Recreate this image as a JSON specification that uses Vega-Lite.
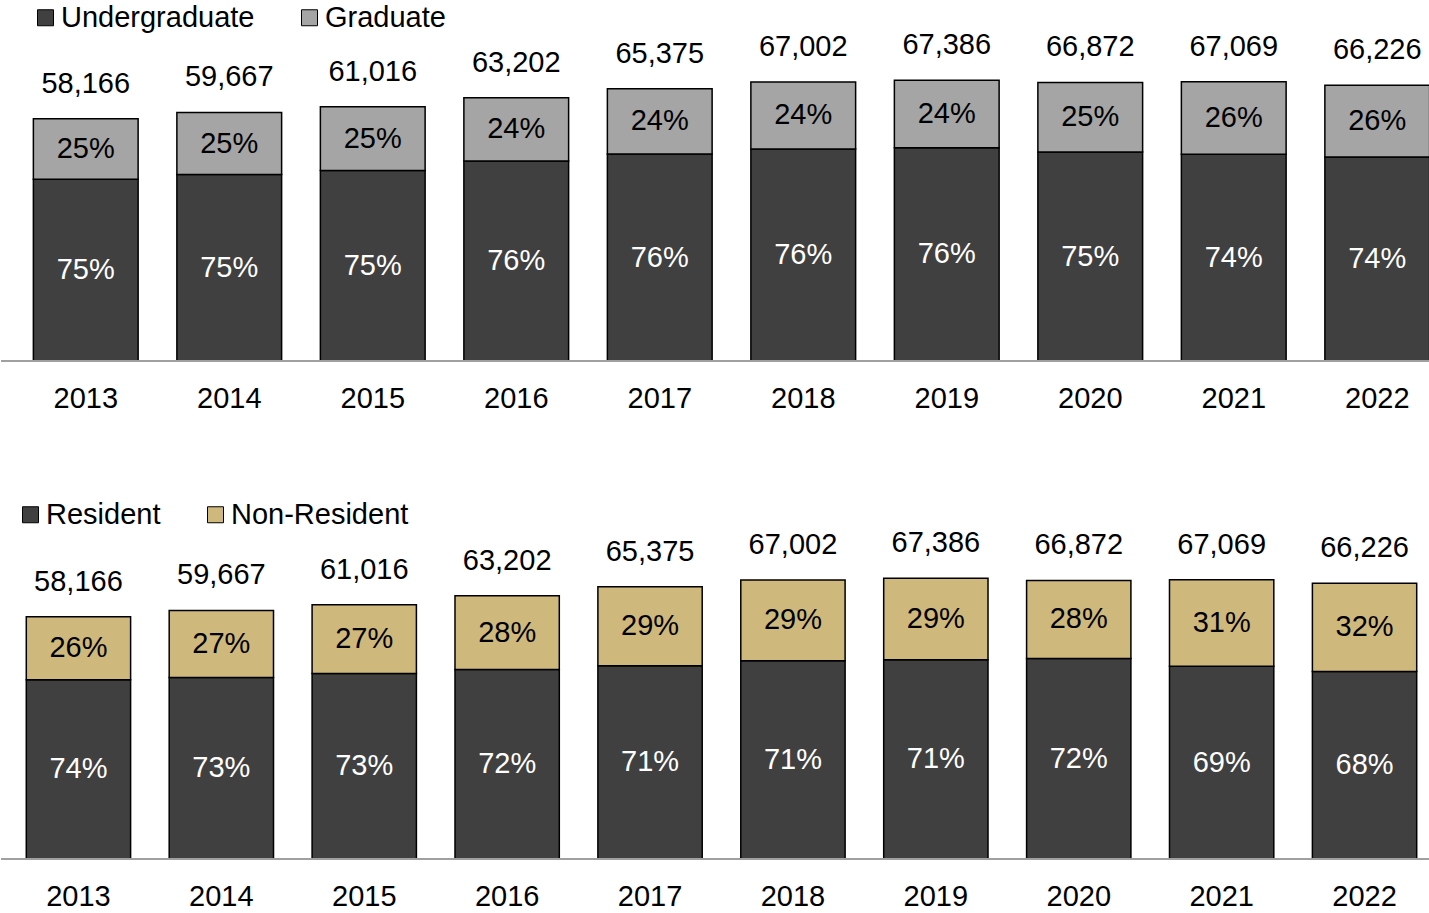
{
  "$schema": "https://vega.github.io/schema/vega-lite/v6.json",
  "padding": 0,
  "bounds": "flush",
  "spacing": 139,
  "background": "white",
  "config": {
    "view": {"stroke": null},
    "font": "Liberation Sans",
    "text": {"font": "Liberation Sans"}
  },
  "resolve": {"scale": {"color": "independent", "x": "independent", "y": "independent"}, "legend": {"color": "independent"}},
  "datasets": {
    "enroll": [
      {"year": "2013", "group": "Undergraduate", "count": 43624, "pct": "75%"},
      {"year": "2013", "group": "Graduate", "count": 14542, "pct": "25%"},
      {"year": "2014", "group": "Undergraduate", "count": 44750, "pct": "75%"},
      {"year": "2014", "group": "Graduate", "count": 14917, "pct": "25%"},
      {"year": "2015", "group": "Undergraduate", "count": 45762, "pct": "75%"},
      {"year": "2015", "group": "Graduate", "count": 15254, "pct": "25%"},
      {"year": "2016", "group": "Undergraduate", "count": 48034, "pct": "76%"},
      {"year": "2016", "group": "Graduate", "count": 15168, "pct": "24%"},
      {"year": "2017", "group": "Undergraduate", "count": 49685, "pct": "76%"},
      {"year": "2017", "group": "Graduate", "count": 15690, "pct": "24%"},
      {"year": "2018", "group": "Undergraduate", "count": 50922, "pct": "76%"},
      {"year": "2018", "group": "Graduate", "count": 16080, "pct": "24%"},
      {"year": "2019", "group": "Undergraduate", "count": 51213, "pct": "76%"},
      {"year": "2019", "group": "Graduate", "count": 16173, "pct": "24%"},
      {"year": "2020", "group": "Undergraduate", "count": 50154, "pct": "75%"},
      {"year": "2020", "group": "Graduate", "count": 16718, "pct": "25%"},
      {"year": "2021", "group": "Undergraduate", "count": 49631, "pct": "74%"},
      {"year": "2021", "group": "Graduate", "count": 17438, "pct": "26%"},
      {"year": "2022", "group": "Undergraduate", "count": 49007, "pct": "74%"},
      {"year": "2022", "group": "Graduate", "count": 17219, "pct": "26%"}
    ],
    "res": [
      {"year": "2013", "group": "Resident", "count": 43043, "pct": "74%"},
      {"year": "2013", "group": "Non-Resident", "count": 15123, "pct": "26%"},
      {"year": "2014", "group": "Resident", "count": 43557, "pct": "73%"},
      {"year": "2014", "group": "Non-Resident", "count": 16110, "pct": "27%"},
      {"year": "2015", "group": "Resident", "count": 44542, "pct": "73%"},
      {"year": "2015", "group": "Non-Resident", "count": 16474, "pct": "27%"},
      {"year": "2016", "group": "Resident", "count": 45505, "pct": "72%"},
      {"year": "2016", "group": "Non-Resident", "count": 17697, "pct": "28%"},
      {"year": "2017", "group": "Resident", "count": 46416, "pct": "71%"},
      {"year": "2017", "group": "Non-Resident", "count": 18959, "pct": "29%"},
      {"year": "2018", "group": "Resident", "count": 47571, "pct": "71%"},
      {"year": "2018", "group": "Non-Resident", "count": 19431, "pct": "29%"},
      {"year": "2019", "group": "Resident", "count": 47844, "pct": "71%"},
      {"year": "2019", "group": "Non-Resident", "count": 19542, "pct": "29%"},
      {"year": "2020", "group": "Resident", "count": 48148, "pct": "72%"},
      {"year": "2020", "group": "Non-Resident", "count": 18724, "pct": "28%"},
      {"year": "2021", "group": "Resident", "count": 46278, "pct": "69%"},
      {"year": "2021", "group": "Non-Resident", "count": 20791, "pct": "31%"},
      {"year": "2022", "group": "Resident", "count": 45034, "pct": "68%"},
      {"year": "2022", "group": "Non-Resident", "count": 21192, "pct": "32%"}
    ]
  },
  "vconcat": [
    {
      "width": 1429,
      "height": 361,
      "data": {"name": "enroll"},
      "transform": [
        {"stack": "count", "groupby": ["year"], "sort": [{"field": "group", "order": "descending"}], "as": ["y0", "y1"]},
        {"calculate": "(datum.y0 + datum.y1) / 2", "as": "ymid"}
      ],
      "layer": [
        {
          "mark": {"type": "bar", "stroke": "black", "strokeWidth": 1.5, "clip": true},
          "encoding": {
            "x": {"field": "year", "type": "ordinal", "scale": {"range": [13, 1448], "paddingInner": 0.27, "paddingOuter": 0.135},
                  "axis": {"title": null, "domain": false, "ticks": false, "labelAngle": 0, "labelFontSize": 29, "labelColor": "black", "labelPadding": 23, "labelFont": "Liberation Sans"}},
            "y": {"field": "y0", "type": "quantitative", "scale": {"domain": [0, 86675], "nice": false, "zero": true}, "axis": null},
            "y2": {"field": "y1"},
            "color": {"field": "group", "type": "nominal",
                      "scale": {"domain": ["Undergraduate", "Graduate"], "range": ["#404040", "#a5a5a5"]},
                      "legend": {"orient": "none", "legendX": 30, "legendY": 3, "direction": "horizontal", "title": null,
                                 "symbolType": "square", "symbolSize": 256, "symbolStrokeColor": "black", "symbolStrokeWidth": 1,
                                 "labelFontSize": 29, "labelFont": "Liberation Sans", "labelColor": "black", "labelLimit": 500,
                                 "columnPadding": 40, "labelOffset": 1, "padding": 0}}
          }
        },
        {
          "mark": {"type": "rule", "color": "#a0a0a0", "strokeWidth": 1.5},
          "encoding": {"y": {"datum": 0, "type": "quantitative"}}
        },
        {
          "transform": [{"filter": "datum.group === 'Undergraduate'"}],
          "mark": {"type": "text", "fontSize": 29, "color": "white", "baseline": "middle"},
          "encoding": {
            "x": {"field": "year", "type": "ordinal"},
            "y": {"field": "ymid", "type": "quantitative"},
            "text": {"field": "pct", "type": "nominal"}
          }
        },
        {
          "transform": [{"filter": "datum.group === 'Graduate'"}],
          "mark": {"type": "text", "fontSize": 29, "color": "black", "baseline": "middle"},
          "encoding": {
            "x": {"field": "year", "type": "ordinal"},
            "y": {"field": "ymid", "type": "quantitative"},
            "text": {"field": "pct", "type": "nominal"}
          }
        },
        {
          "mark": {"type": "text", "fontSize": 29, "color": "black", "baseline": "middle", "dy": -35},
          "encoding": {
            "x": {"field": "year", "type": "ordinal"},
            "y": {"aggregate": "sum", "field": "count", "type": "quantitative"},
            "text": {"aggregate": "sum", "field": "count", "type": "quantitative", "format": ","}
          }
        }
      ]
    },
    {
      "width": 1429,
      "height": 359,
      "data": {"name": "res"},
      "transform": [
        {"stack": "count", "groupby": ["year"], "sort": [{"field": "group", "order": "descending"}], "as": ["y0", "y1"]},
        {"calculate": "(datum.y0 + datum.y1) / 2", "as": "ymid"}
      ],
      "layer": [
        {
          "mark": {"type": "bar", "stroke": "black", "strokeWidth": 1.5, "clip": true},
          "encoding": {
            "x": {"field": "year", "type": "ordinal", "scale": {"range": [6, 1435], "paddingInner": 0.27, "paddingOuter": 0.135},
                  "axis": {"title": null, "domain": false, "ticks": false, "labelAngle": 0, "labelFontSize": 29, "labelColor": "black", "labelPadding": 23, "labelFont": "Liberation Sans"}},
            "y": {"field": "y0", "type": "quantitative", "scale": {"domain": [0, 86195], "nice": false, "zero": true}, "axis": null},
            "y2": {"field": "y1"},
            "color": {"field": "group", "type": "nominal",
                      "scale": {"domain": ["Resident", "Non-Resident"], "range": ["#404040", "#cfb87c"]},
                      "legend": {"orient": "none", "legendX": 15, "legendY": 0, "direction": "horizontal", "title": null,
                                 "symbolType": "square", "symbolSize": 256, "symbolStrokeColor": "black", "symbolStrokeWidth": 1,
                                 "labelFontSize": 29, "labelFont": "Liberation Sans", "labelColor": "black", "labelLimit": 500,
                                 "columnPadding": 40, "labelOffset": 1, "padding": 0}}
          }
        },
        {
          "mark": {"type": "rule", "color": "#a0a0a0", "strokeWidth": 1.5},
          "encoding": {"y": {"datum": 0, "type": "quantitative"}}
        },
        {
          "transform": [{"filter": "datum.group === 'Resident'"}],
          "mark": {"type": "text", "fontSize": 29, "color": "white", "baseline": "middle"},
          "encoding": {
            "x": {"field": "year", "type": "ordinal"},
            "y": {"field": "ymid", "type": "quantitative"},
            "text": {"field": "pct", "type": "nominal"}
          }
        },
        {
          "transform": [{"filter": "datum.group === 'Non-Resident'"}],
          "mark": {"type": "text", "fontSize": 29, "color": "black", "baseline": "middle"},
          "encoding": {
            "x": {"field": "year", "type": "ordinal"},
            "y": {"field": "ymid", "type": "quantitative"},
            "text": {"field": "pct", "type": "nominal"}
          }
        },
        {
          "mark": {"type": "text", "fontSize": 29, "color": "black", "baseline": "middle", "dy": -35},
          "encoding": {
            "x": {"field": "year", "type": "ordinal"},
            "y": {"aggregate": "sum", "field": "count", "type": "quantitative"},
            "text": {"aggregate": "sum", "field": "count", "type": "quantitative", "format": ","}
          }
        }
      ]
    }
  ]
}
